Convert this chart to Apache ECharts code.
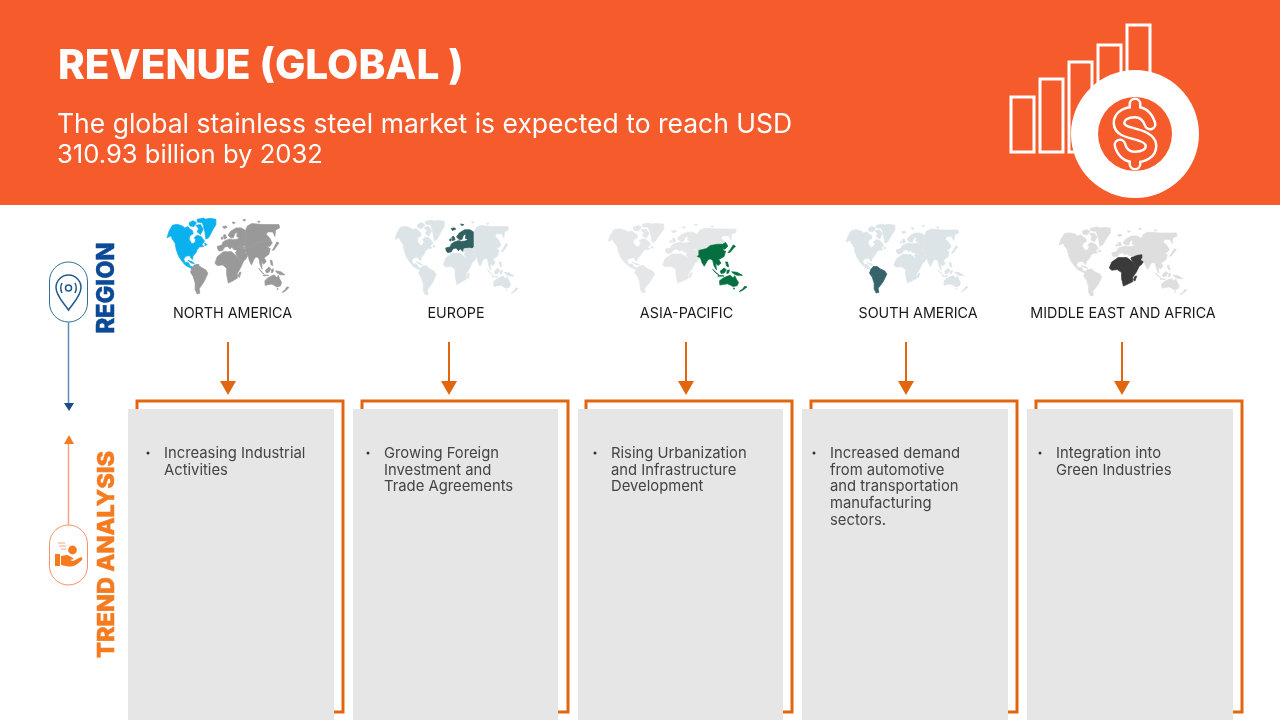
<!DOCTYPE html>
<html><head><meta charset="utf-8">
<style>html,body{margin:0;padding:0;background:#fff}#c{width:1280px;height:720px}</style>
<script src="https://cdn.jsdelivr.net/npm/echarts@6/dist/echarts.min.js"></script>
</head><body><div id="c"></div>
<script>
const titleText = 'REVENUE (GLOBAL )';
const subtitleLines = ['The global stainless steel market is expected to reach USD', '310.93 billion by 2032'];
const sideLabels = ['REGION', 'TREND ANALYSIS'];
const regionLabels = ['NORTH AMERICA', 'EUROPE', 'ASIA-PACIFIC', 'SOUTH AMERICA', 'MIDDLE EAST AND AFRICA'];
const trendLines = [
  ['Increasing Industrial', 'Activities'],
  ['Growing Foreign', 'Investment and', 'Trade Agreements'],
  ['Rising Urbanization', 'and Infrastructure', 'Development'],
  ['Increased demand', 'from automotive', 'and transportation', 'manufacturing', 'sectors.'],
  ['Integration into', 'Green Industries']
];
const highlighted = [['North America'], ['Europe'], ['Asia Pacific'], ['South America'], ['Africa', 'Middle East']];
const highlightColors = ['#0BB1EE', '#2F6062', '#05703F', '#35636A', '#3A3A3A'];
const baseColors = ['#999999', '#DCE4E8', '#E4E6E8', '#DCE4E8', '#DEDEDE'];

/* simplified continent outlines in map units (x right, y down) */
const northAmerica = [
 [[22,68],[28,48],[38,30],[52,27],[68,32],[75,38],[84,34],[92,42],[98,46],[100,56],[90,62],[88,72],[96,86],[104,84],[108,74],[103,68],[112,60],[124,64],[134,78],[126,88],[132,94],[118,96],[112,104],[108,114],[100,122],[98,134],[94,130],[90,122],[78,124],[72,132],[76,144],[84,142],[88,146],[90,153],[102,158],[108,166],[100,164],[90,158],[78,152],[66,138],[56,122],[49,102],[46,84],[38,72],[34,62]],
 [[88,22],[100,16],[110,22],[102,34],[90,32]],
 [[108,30],[122,28],[130,42],[122,58],[112,50],[116,40]],
 [[112,12],[132,8],[138,14],[124,22],[112,20]],
 [[124,14],[150,9],[168,12],[168,28],[158,45],[146,68],[138,72],[135,50],[130,30]],
 [[84,136],[96,140],[104,146],[94,144]],
 [[108,148],[118,150],[110,152]],
 [[134,84],[142,88],[136,92]]
];
const southAmerica = [
 [[103,150],[96,160],[92,172],[100,185],[106,205],[106,225],[112,238],[120,236],[118,222],[128,208],[134,198],[144,175],[138,165],[125,158],[115,150]]
];
const africa = [
 [[165,145],[172,125],[190,110],[215,110],[232,125],[240,142],[252,135],[242,158],[232,175],[232,190],[215,200],[205,205],[200,180],[200,160],[188,150],[172,152]],
 [[238,172],[243,172],[238,188],[234,185]]
];
const middleEast = [
 [[232,106],[240,100],[260,100],[260,112],[254,112],[262,124],[256,134],[240,142],[234,128],[226,112]]
];
const europe = [
 [[174,104],[172,94],[186,90],[188,82],[196,76],[208,72],[214,72],[218,74],[232,72],[238,68],[230,64],[232,52],[225,54],[220,68],[212,68],[204,60],[212,48],[228,38],[244,38],[256,46],[256,90],[250,94],[240,96],[232,94],[228,102],[222,104],[215,96],[210,102],[203,94],[194,96],[188,106],[178,108]],
 [[192,72],[200,68],[196,58],[190,60],[192,68]],
 [[184,66],[189,66],[188,72],[184,72]],
 [[188,34],[198,32],[202,36],[192,40]],
 [[216,20],[226,22],[220,26]]
];
const northAsia = [
 [[256,46],[262,32],[275,25],[310,28],[356,28],[358,38],[346,44],[344,64],[338,50],[322,50],[318,58],[328,68],[330,72],[322,78],[308,78],[290,82],[280,92],[260,98],[252,98],[256,90]],
 [[224,104],[226,96],[244,94],[252,98],[240,102],[232,106]],
 [[248,14],[256,12],[254,18]],
 [[292,18],[300,18],[296,22]]
];
const asiaPacific = [
 [[260,112],[260,98],[280,92],[290,82],[308,78],[322,78],[330,72],[336,84],[328,94],[322,92],[326,100],[330,100],[326,118],[312,128],[318,140],[310,148],[304,140],[306,162],[300,150],[296,130],[290,126],[284,128],[274,150],[268,138],[264,122],[256,118]],
 [[350,80],[356,84],[350,92],[342,104],[336,106],[342,96]],
 [[296,160],[306,172],[312,178],[304,172]],
 [[316,166],[326,156],[332,162],[326,172],[318,174]],
 [[310,180],[326,182],[326,185],[310,183]],
 [[334,164],[340,162],[338,172],[333,174]],
 [[330,136],[335,136],[338,152],[333,150]],
 [[346,168],[360,170],[374,180],[360,180],[350,174]],
 [[314,198],[322,190],[332,184],[342,180],[345,184],[350,188],[354,181],[358,192],[364,204],[360,214],[350,217],[342,212],[335,208],[322,210],[315,212]],
 [[350,222],[354,222],[352,226]],
 [[374,226],[380,216],[386,218],[376,228],[366,234],[368,230]]
];
const worldParts = [
 ['North America', northAmerica], ['South America', southAmerica], ['Africa', africa],
 ['Middle East', middleEast], ['Europe', europe], ['North Asia', northAsia], ['Asia Pacific', asiaPacific]
];

const closeRing = r => r.concat([r[0]]);
echarts.registerMap('world5', {
  type: 'FeatureCollection',
  features: worldParts.map(([name, polys]) => ({
    type: 'Feature', properties: { name },
    geometry: { type: 'MultiPolygon', coordinates: polys.map(p => [closeRing(p)]) }
  }))
});
const mapProjection = { project: p => [p[0], p[1]], unproject: p => [p[0], p[1]] };

const G = echarts.graphic;
G.registerShape('pinIcon', G.extendPath('M68.5 310C64 303 56 296 56 287.5A12.5 12.5 0 0 1 81 287.5C81 296 73 303 68.5 310ZM62 283Q59.5 288 62 293M75 283Q77.5 288 75 293', {}));
G.registerShape('handIcon', G.extendPath('M61 556L67 555C70 556 72 557 74 559L70 560L73 561L80 557.5C82 557 83 558 82 560C78 564 74 567 68 566.5L61 565Z', {}));
G.registerShape('dollarIcon', G.extendPath('M1135 104L1135 112M1135 157L1135 164M1150 124C1147 115 1141 112 1135 112C1126 112 1119 116 1119 123C1119 130 1127 132 1135 134C1143 136 1151 139 1151 146C1151 153 1144 157 1135 157C1128 157 1122 153 1120 145', {}));

const ORANGE = '#F55B2B', TREND = '#F47B20', BRACKET = '#E2660F', BLUE = '#0B4A96';
const FONT = 'Inter, "Open Sans", sans-serif';
const mapBoxes = [[167,218,122,76],[395,220,123,75],[608,223,139,70],[846,224,122,69],[1059,227,128,69]];
const labelCx = [232.5, 456, 686.5, 918, 1123];
const arrowX = [228, 449, 686, 906, 1122];
const cardX = [[128,334],[353,558],[578,783],[802,1008],[1027,1233]];
const bracketX = [[137,343],[362,568],[586,792],[811,1017],[1036,1242]];
const bulletX = [148, 368, 595, 814, 1040];
const textX = [164, 384, 611, 830, 1056];
const iconBars = [[1011,97,23,55],[1040,79,23,73],[1069,62,23,90],[1098,45,23,107],[1127,25,23,127]];
const subtitleSizes = [26.5, 25.6];

const els = [];
els.push({ type:'rect', shape:{x:0,y:0,width:1280,height:205}, style:{fill:ORANGE} });
els.push({ type:'text', x:58, y:67, style:{text:titleText, fill:'#fff', font:'800 40.5px '+FONT, textVerticalAlign:'middle', textBaseline:'middle'} });
subtitleLines.forEach((t,i)=>els.push({ type:'text', x:57, y:125.5+i*30, style:{text:t, fill:'#fff', font:'400 '+subtitleSizes[i]+'px '+FONT, textBaseline:'middle', textVerticalAlign:'middle'} }));
iconBars.forEach(b=>els.push({ type:'rect', shape:{x:b[0],y:b[1],width:b[2],height:b[3]}, style:{fill:'none', stroke:'#fff', lineWidth:3} }));
els.push({ type:'circle', shape:{cx:1135,cy:134,r:64}, style:{fill:'#fff'} });
els.push({ type:'circle', shape:{cx:1135,cy:134,r:37}, style:{fill:ORANGE} });
els.push({ type:'dollarIcon', style:{fill:'none', stroke:'#fff', lineWidth:13, lineCap:'round', lineJoin:'round'} });
els.push({ type:'dollarIcon', style:{fill:'none', stroke:ORANGE, lineWidth:8, lineCap:'round', lineJoin:'round'} });

// left rail
els.push({ type:'rect', shape:{x:49.5,y:262,width:38,height:60,r:19}, style:{fill:'#fff', stroke:'#2E6E9A', lineWidth:1} });
els.push({ type:'pinIcon', style:{fill:'none', stroke:'#1F5A8C', lineWidth:1.5} });
els.push({ type:'circle', shape:{cx:68.5,cy:288,r:3}, style:{fill:'none', stroke:'#1F5A8C', lineWidth:1.5} });
els.push({ type:'line', shape:{x1:68.5,y1:322,x2:68.5,y2:404}, style:{stroke:'#5B8DB8', lineWidth:1.5} });
els.push({ type:'polygon', shape:{points:[[64,403],[74,403],[69,411]]}, style:{fill:'#1A4E8A'} });
els.push({ type:'text', x:107, y:288, rotation:Math.PI/2, style:{text:sideLabels[0], fill:BLUE, stroke:BLUE, lineWidth:0.5, font:'800 23.7px '+FONT, textAlign:'center', textBaseline:'middle', textVerticalAlign:'middle'} });
els.push({ type:'rect', shape:{x:49.5,y:525,width:38,height:60,r:19}, style:{fill:'#fff', stroke:'#F9906A', lineWidth:1} });
els.push({ type:'handIcon', style:{fill:TREND} });
els.push({ type:'rect', shape:{x:55,y:554,width:5,height:12}, style:{fill:TREND} });
els.push({ type:'circle', shape:{cx:72.5,cy:550,r:4.4}, style:{fill:TREND} });
[[58,543,65],[59,546,66],[61,549,66]].forEach(l=>els.push({ type:'line', shape:{x1:l[0],y1:l[1],x2:l[2],y2:l[1]}, style:{stroke:'#F9A27E', lineWidth:1} }));
els.push({ type:'line', shape:{x1:68.5,y1:525,x2:68.5,y2:443}, style:{stroke:'#F9A27E', lineWidth:1.5} });
els.push({ type:'polygon', shape:{points:[[64,444],[74,444],[69,435]]}, style:{fill:TREND} });
els.push({ type:'text', x:107, y:554.5, rotation:Math.PI/2, style:{text:sideLabels[1], fill:TREND, stroke:TREND, lineWidth:0.5, font:'800 23.6px '+FONT, textAlign:'center', textBaseline:'middle', textVerticalAlign:'middle'} });

regionLabels.forEach((t,i)=>{
  els.push({ type:'text', x:labelCx[i], y:314, style:{text:t, fill:'#1A1A1A', font:'400 14.3px '+FONT, textAlign:'center', textBaseline:'middle', textVerticalAlign:'middle'} });
  els.push({ type:'line', shape:{x1:arrowX[i],y1:342,x2:arrowX[i],y2:383}, style:{stroke:BRACKET, lineWidth:2} });
  els.push({ type:'polygon', shape:{points:[[arrowX[i]-8,381],[arrowX[i]+8,381],[arrowX[i],395]]}, style:{fill:BRACKET} });
  const [bl,br]=bracketX[i];
  els.push({ type:'polyline', shape:{points:[[bl,412],[bl,401],[br,401],[br,712],[cardX[i][1],712]]}, style:{fill:'none', stroke:BRACKET, lineWidth:3} });
  els.push({ type:'rect', shape:{x:cardX[i][0],y:409,width:cardX[i][1]-cardX[i][0],height:311}, style:{fill:'#E6E6E6'} });
  els.push({ type:'circle', shape:{cx:bulletX[i],cy:453,r:1.5}, style:{fill:'#333'} });
  trendLines[i].forEach((line,j)=>els.push({ type:'text', x:textX[i], y:453.5+j*16.75, style:{text:line, fill:'#444', font:'400 14.8px '+FONT, textBaseline:'middle', textVerticalAlign:'middle'} }));
});

const geos = mapBoxes.map((b,i)=>({
  map:'world5', projection:mapProjection, roam:false, silent:true,
  left:b[0], top:b[1], width:b[2], height:b[3],
  label:{show:false},
  itemStyle:{areaColor:baseColors[i], borderColor:baseColors[i], borderWidth:0.7},
  emphasis:{disabled:true}, select:{disabled:true},
  regions:highlighted[i].map(name=>({name, itemStyle:{areaColor:highlightColors[i], borderColor:highlightColors[i], borderWidth:0.7}}))
}));

const chart = echarts.init(document.getElementById('c'), null, {width:1280, height:720});
chart.setOption({ backgroundColor:'#fff', animation:false, geo:geos, graphic:{elements:els} });
</script></body></html>
